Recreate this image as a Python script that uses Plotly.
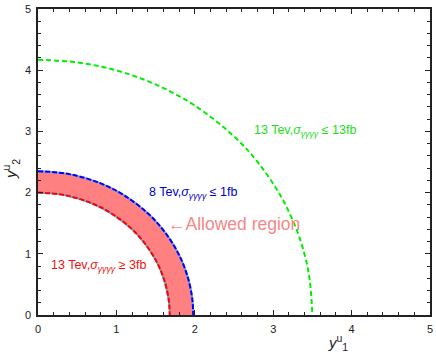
import plotly.graph_objects as go

# Curve points (y2 vs y1)
green_x = [0, 0.5, 1.0, 1.5, 2.0, 2.5, 2.8, 3.1, 3.3, 3.4, 3.45, 3.48, 3.5]
green_y = [4.17, 4.127, 3.996, 3.768, 3.422, 2.918, 2.502, 1.936, 1.389, 0.990, 0.703, 0.40, 0.0]

blue_x = [0, 0.4, 0.8, 1.1, 1.4, 1.6, 1.75, 1.85, 1.92, 1.96, 1.975, 1.98]
blue_y = [2.35, 2.302, 2.150, 1.954, 1.662, 1.384, 1.099, 0.838, 0.574, 0.333, 0.166, 0.0]

red_x = [0, 0.35, 0.7, 0.95, 1.2, 1.36, 1.5, 1.58, 1.63, 1.665, 1.677, 1.68]
red_y = [2.0, 1.956, 1.818, 1.649, 1.400, 1.174, 0.901, 0.680, 0.484, 0.267, 0.120, 0.0]

x_ticks = [0, 1, 2, 3, 4, 5]
y_ticks = [0, 1, 2, 3, 4, 5]

font_fam = "Liberation Sans, Arial, sans-serif"

fig = go.Figure()

# allowed band between red and blue curves
fig.add_trace(go.Scatter(
    x=blue_x + red_x[::-1], y=blue_y + red_y[::-1],
    fill="toself", fillcolor="#ff8080", mode="lines",
    line=dict(width=0), hoverinfo="skip", showlegend=False))

for xs, ys in [(blue_x, blue_y), (red_x, red_y)]:
    fig.add_trace(go.Scatter(x=xs, y=ys, mode="lines", line_shape="spline",
                             line=dict(color="#7a9cc6", width=2), showlegend=False))

fig.add_trace(go.Scatter(x=green_x, y=green_y, mode="lines", line_shape="spline",
                         line=dict(color="#00ee00", width=2, dash="5px,3px"), showlegend=False))
fig.add_trace(go.Scatter(x=blue_x, y=blue_y, mode="lines", line_shape="spline",
                         line=dict(color="#0000ff", width=2, dash="5px,2px"), showlegend=False))
fig.add_trace(go.Scatter(x=red_x, y=red_y, mode="lines", line_shape="spline",
                         line=dict(color="#ff0000", width=2, dash="5px,2px"), showlegend=False))

axis_common = dict(range=[0, 5], showgrid=False, zeroline=False, showline=True,
                   linecolor="#222", linewidth=1.5, mirror="ticks", ticks="inside",
                   ticklen=5, tickcolor="#222", tickwidth=1, ticklabelstandoff=3,
                   ticklabeloverflow="allow",
                   tickfont=dict(family=font_fam, size=11, color="#222"),
                   minor=dict(ticks="inside", ticklen=3, dtick=0.2, tickcolor="#222", tickwidth=1))

fig.update_xaxes(**axis_common, tickvals=x_ticks, ticktext=[str(v) for v in x_ticks])
fig.update_yaxes(**axis_common, tickvals=y_ticks, ticktext=[str(v) for v in y_ticks])

anns = [
    dict(x=3.40, y=3.0, text="13 Tev,<i>σ</i><sub><i>γγγγ</i></sub> ≤ 13fb", color="#22dd22", size=12.5),
    dict(x=1.98, y=1.99, text="8 Tev,<i>σ</i><sub><i>γγγγ</i></sub> ≤ 1fb", color="#0000cc", size=12.5),
    dict(x=0.77, y=0.80, text="13 Tev,<i>σ</i><sub><i>γγγγ</i></sub> ≥ 3fb", color="#ee1111", size=12.5),
    dict(x=2.50, y=1.48, text="←Allowed region", color="#f58888", size=17.5),
]
for a in anns:
    fig.add_annotation(x=a["x"], y=a["y"], text=a["text"], showarrow=False,
                       font=dict(family=font_fam, size=a["size"], color=a["color"]),
                       xanchor="center", yanchor="middle")

fig.add_annotation(xref="paper", yref="paper", x=(340 - 38) / 395, y=-0.09,
                   text="<i>y</i><sup>u</sup><sub>1</sub>", showarrow=False,
                   font=dict(family=font_fam, size=15, color="#222"),
                   xanchor="center", yanchor="middle")
fig.add_annotation(xref="paper", yref="paper", x=-0.07, y=(315 - 168) / 309,
                   text="<i>y</i><sup>u</sup><sub>2</sub>", showarrow=False, textangle=-90,
                   font=dict(family=font_fam, size=15, color="#222"),
                   xanchor="center", yanchor="middle")

fig.update_layout(width=436, height=354, margin=dict(l=38, r=3, t=6, b=39),
                  plot_bgcolor="white", paper_bgcolor="white", showlegend=False)

fig.write_html("out.html", config={"displayModeBar": False},
               post_script="document.body.style.margin='0px';document.body.style.padding='0px';")
